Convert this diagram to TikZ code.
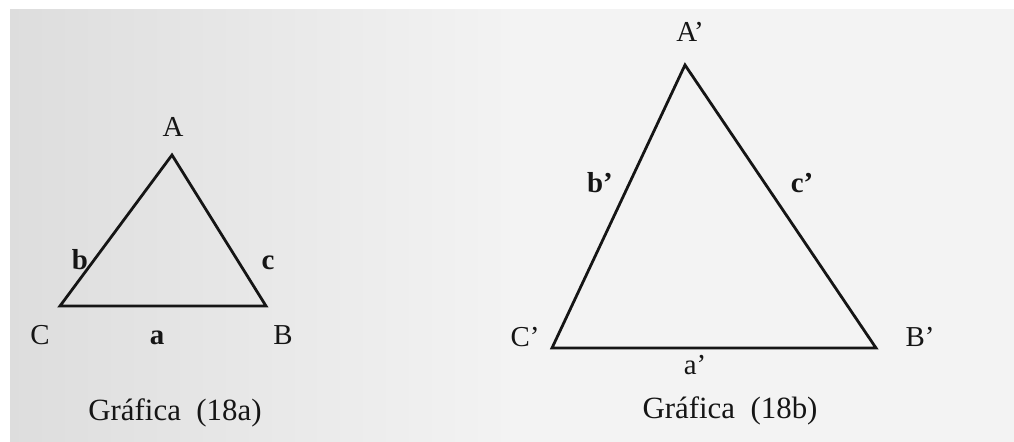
\documentclass[tikz,border=0pt]{standalone}
\usepackage{fontspec}
\setmainfont{Liberation Serif}
\usepackage{xcolor}
\usepackage{tikz}
\usetikzlibrary{positioning}
\definecolor{inkblack}{HTML}{151515}
\definecolor{paperdark}{HTML}{D0D0D0}
\definecolor{paperlight}{HTML}{F3F3F3}
\pgfdeclarehorizontalshading{paper}{100bp}{color(0bp)=(paperdark); color(20bp)=(paperdark!75!paperlight); color(50bp)=(paperlight); color(100bp)=(paperlight)}
\tikzset{
  tri/.style={draw=inkblack, line width=2.8pt, line join=miter},
  vlbl/.style={anchor=base, inner sep=0pt, font=\fontsize{29}{32}\selectfont, text=inkblack},
  slbl/.style={anchor=base, inner sep=0pt, font=\fontsize{29}{32}\selectfont\bfseries, text=inkblack},
  capt/.style={anchor=base, inner sep=0pt, font=\fontsize{31}{34}\selectfont, text=inkblack},
}
\begin{document}
\begin{tikzpicture}[x=1bp, y=-1bp]
  \useasboundingbox (0,0) rectangle (1014,442);
  \fill[white] (0,0) rectangle (1014,442);
  \shade[shading=paper] (10,10) rectangle (1014,442);

  % triangle (18a)
  \coordinate (A) at (172,155);
  \coordinate (B) at (266,306);
  \coordinate (C) at (60,306);
  \draw[tri] (A) -- (B) -- (C) -- cycle;
  \node[vlbl] (lA) at (173,137) {A};
  \node[vlbl] (lB) at (283,345) {B};
  \node[vlbl] (lC) at (40,345)  {C};
  \node[slbl] (la) at (157,345) {a};
  \node[slbl] (lb) at (80,270)  {b};
  \node[slbl] (lc) at (268,270) {c};
  \node[capt] (ga) at (175,420) {Gráfica~~(18a)};

  % triangle (18b)
  \coordinate (A') at (685,65);
  \coordinate (B') at (876,348);
  \coordinate (C') at (552,348);
  \draw[tri] (A') -- (B') -- (C') -- cycle;
  \node[vlbl] (lA') at (690,42)  {A'};
  \node[vlbl] (lB') at (920,347) {B'};
  \node[vlbl] (lC') at (525,347) {C'};
  \node[vlbl] (la') at (695,375) {a'};
  \node[slbl] (lb') at (600,193) {b'};
  \node[slbl] (lc') at (802,193) {c'};
  \node[capt] (gb) at (730,418) {Gráfica~~(18b)};
\end{tikzpicture}
\end{document}
